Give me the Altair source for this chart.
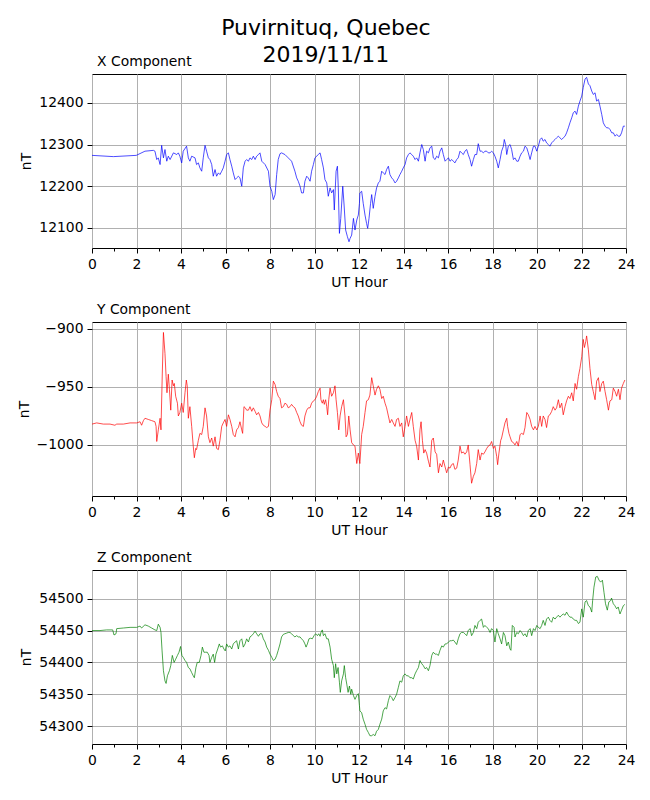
import altair as alt
import pandas as pd

TITLE_LINES = ["Puvirnituq, Quebec", "2019/11/11"]
PANEL_TITLES = ["X Component", "Y Component", "Z Component"]
COLORS = ["blue", "red", "green"]
X_TICKS = list(range(0, 25))
Y_TICKS = [[12100, 12200, 12300, 12400], [-1000, -950, -900], [54300, 54350, 54400, 54450, 54500]]
Y_DOMAINS = [[12052, 12469], [-1044, -894], [54272, 54545]]

# (UT hour, nT)
X_PTS = [(0.00,12274),(0.96,12271),(1.99,12274),(2.38,12284),(2.76,12286),(2.83,12284),(2.91,12264),(2.98,12268),(3.06,12252),(3.13,12298),(3.21,12268),(3.28,12288),(3.36,12260),(3.43,12272),(3.51,12264),(3.66,12280),(3.81,12276),(3.88,12280),(3.95,12272),(4.03,12256),(4.10,12284),(4.25,12296),(4.33,12268),(4.40,12260),(4.48,12272),(4.63,12268),(4.70,12252),(4.78,12256),(4.85,12244),(4.93,12236),(5.00,12268),(5.08,12298),(5.15,12284),(5.23,12268),(5.30,12264),(5.38,12252),(5.45,12224),(5.53,12240),(5.60,12224),(5.68,12232),(5.75,12228),(5.83,12236),(5.90,12244),(5.98,12260),(6.05,12276),(6.13,12280),(6.20,12264),(6.28,12248),(6.35,12232),(6.43,12216),(6.50,12220),(6.58,12224),(6.65,12220),(6.73,12200),(6.80,12244),(6.88,12260),(6.95,12264),(7.03,12260),(7.10,12268),(7.18,12264),(7.25,12272),(7.33,12264),(7.40,12272),(7.48,12276),(7.55,12280),(7.63,12260),(7.78,12252),(7.93,12236),(8.00,12200),(8.08,12188),(8.15,12168),(8.23,12180),(8.30,12228),(8.37,12264),(8.45,12278),(8.52,12280),(8.67,12276),(8.82,12268),(8.97,12260),(9.12,12236),(9.20,12220),(9.27,12212),(9.35,12200),(9.42,12184),(9.50,12184),(9.57,12212),(9.65,12224),(9.72,12220),(9.80,12212),(9.87,12236),(9.95,12252),(10.02,12268),(10.17,12276),(10.25,12280),(10.32,12264),(10.40,12244),(10.47,12216),(10.55,12208),(10.62,12176),(10.70,12196),(10.77,12184),(10.85,12192),(10.89,12143),(10.97,12236),(11.03,12248),(11.07,12196),(11.12,12087),(11.18,12123),(11.27,12200),(11.33,12155),(11.40,12095),(11.48,12079),(11.55,12067),(11.60,12075),(11.67,12083),(11.75,12123),(11.82,12095),(11.90,12119),(11.97,12131),(12.02,12159),
(12.04,12184),(12.12,12188),(12.19,12159),(12.27,12131),(12.34,12111),(12.39,12099),(12.45,12123),(12.52,12159),(12.57,12180),(12.64,12147),(12.72,12176),(12.79,12196),(12.87,12208),(12.94,12212),(13.02,12236),(13.09,12232),(13.17,12228),(13.24,12240),(13.32,12248),(13.39,12228),(13.47,12220),(13.54,12216),(13.62,12208),(13.69,12212),(13.77,12220),(13.84,12228),(13.92,12236),(13.99,12244),(14.07,12252),(14.14,12268),(14.22,12276),(14.29,12280),(14.37,12276),(14.44,12272),(14.52,12264),(14.59,12268),(14.67,12260),(14.74,12280),(14.82,12300),(14.89,12288),(14.97,12260),(15.04,12284),(15.12,12280),(15.19,12292),(15.27,12296),(15.34,12268),(15.42,12264),(15.49,12272),(15.57,12268),(15.64,12284),(15.72,12292),(15.79,12276),(15.87,12260),(15.94,12264),(16.02,12268),(16.09,12260),(16.17,12264),(16.24,12260),(16.31,12256),(16.39,12264),(16.46,12268),(16.54,12284),(16.61,12280),(16.69,12276),(16.76,12284),(16.84,12288),(16.91,12276),(16.99,12264),(17.06,12248),(17.14,12264),(17.21,12276),(17.29,12276),(17.36,12302),(17.44,12284),(17.51,12284),(17.59,12280),(17.66,12284),(17.74,12284),(17.81,12280),(17.89,12280),(17.96,12284),(18.04,12280),(18.11,12272),(18.19,12260),(18.26,12244),(18.34,12264),(18.41,12284),(18.49,12296),(18.53,12312),(18.59,12300),(18.64,12276),(18.71,12296),(18.79,12300),(18.86,12288),(18.94,12264),(19.01,12268),(19.09,12260),(19.16,12260),(19.24,12272),(19.31,12280),(19.39,12284),(19.46,12296),(19.54,12292),(19.61,12280),(19.69,12264),(19.76,12280),(19.84,12296),(19.91,12296),(19.99,12284),(20.06,12296),(20.14,12312),(20.21,12316),(20.28,12308),(20.36,12312),(20.43,12304),(20.51,12300),(20.58,12296),(20.66,12304),(20.73,12308),(20.81,12312),(20.88,12316),(20.96,12320),(21.03,12316),(21.11,12312),(21.18,12316),(21.26,12320),(21.33,12328),(21.41,12340),(21.48,12352),(21.56,12364),(21.63,12376),(21.71,12380),(21.78,12372),(21.86,12392),(21.93,12404),(22.01,12416),(22.08,12437),(22.16,12457),(22.23,12461),(22.31,12445),(22.38,12441),(22.46,12428),(22.53,12420),(22.61,12424),(22.68,12404),(22.76,12408),(22.83,12392),(22.91,12372),(22.98,12352),(23.06,12344),(23.13,12340),(23.21,12340),(23.28,12336),(23.36,12328),(23.43,12328),(23.51,12320),(23.58,12324),(23.66,12320),(23.73,12320),(23.80,12328),(23.88,12344),(23.95,12344)]

Y_PTS = [(0.00,-982),(0.21,-981),(0.51,-982),(0.81,-982),(1.03,-983),(1.11,-982),(1.26,-982),(1.41,-982),(1.71,-981),(2.01,-981),(2.16,-980),(2.23,-983),(2.31,-979),(2.38,-977),(2.53,-978),(2.68,-979),(2.83,-980),(2.88,-984),(2.91,-997),(2.98,-987),(3.06,-977),(3.10,-987),(3.16,-938),(3.21,-903),(3.28,-921),(3.33,-941),(3.37,-955),(3.43,-939),(3.48,-952),(3.54,-970),(3.60,-944),(3.66,-949),(3.70,-947),(3.76,-958),(3.84,-964),(3.88,-975),(3.95,-972),(4.03,-964),(4.10,-972),(4.18,-955),(4.24,-944),(4.28,-949),(4.33,-977),(4.40,-967),(4.48,-984),(4.55,-1001),(4.60,-1011),(4.66,-1003),(4.70,-1004),(4.78,-996),(4.85,-990),(4.93,-991),(5.00,-984),(5.08,-968),(5.15,-975),(5.23,-993),(5.30,-998),(5.38,-994),(5.45,-1001),(5.53,-993),(5.60,-1003),(5.68,-1004),(5.75,-996),(5.83,-984),(5.90,-981),(5.98,-978),(6.05,-984),(6.13,-974),(6.20,-978),(6.28,-984),(6.35,-991),(6.43,-993),(6.50,-987),(6.58,-985),(6.65,-980),(6.73,-987),(6.77,-990),(6.83,-967),(6.89,-968),(6.95,-970),(7.03,-970),(7.10,-967),(7.18,-971),(7.25,-968),(7.33,-971),(7.40,-974),(7.48,-972),(7.55,-975),(7.63,-981),(7.70,-983),(7.78,-984),(7.85,-985),(7.93,-984),(8.00,-970),(8.08,-961),(8.15,-945),(8.23,-948),(8.30,-954),(8.37,-958),(8.45,-960),(8.52,-968),(8.60,-967),(8.67,-964),(8.75,-965),(8.82,-968),(8.90,-967),(8.97,-965),(9.05,-967),(9.12,-968),(9.20,-972),(9.27,-975),(9.35,-980),(9.42,-983),(9.50,-984),(9.57,-975),(9.65,-970),(9.72,-968),(9.80,-968),(9.87,-964),(9.95,-962),(10.02,-961),(10.10,-958),(10.17,-954),(10.25,-951),(10.29,-961),(10.35,-964),(10.40,-961),(10.44,-965),(10.50,-961),(10.55,-967),(10.59,-974),(10.64,-961),(10.70,-951),(10.77,-958),(10.85,-955),(10.92,-949),(10.97,-961),(11.03,-972),(11.09,-987),(11.15,-975),(11.22,-967),(11.30,-961),(11.37,-975),(11.42,-993),(11.48,-991),(11.54,-975),(11.60,-987),(11.67,-998),(11.75,-1000),(11.82,-1001),(11.90,-1016),(11.97,-1007),(12.02,-1014),
(12.04,-1016),(12.12,-991),(12.19,-984),(12.27,-972),(12.34,-962),(12.42,-961),(12.49,-957),(12.57,-942),(12.64,-949),(12.72,-957),(12.79,-952),(12.87,-949),(12.94,-952),(13.02,-960),(13.09,-958),(13.17,-964),(13.24,-968),(13.32,-975),(13.39,-981),(13.47,-978),(13.54,-981),(13.62,-984),(13.69,-978),(13.77,-977),(13.84,-984),(13.92,-981),(13.99,-993),(14.07,-984),(14.14,-975),(14.22,-984),(14.29,-978),(14.37,-972),(14.44,-984),(14.52,-996),(14.59,-1001),(14.67,-1013),(14.74,-987),(14.79,-980),(14.85,-996),(14.91,-1007),(14.97,-1004),(15.04,-1007),(15.12,-1014),(15.19,-1019),(15.27,-996),(15.34,-994),(15.42,-1006),(15.49,-1008),(15.57,-1024),(15.64,-1016),(15.72,-1019),(15.79,-1013),(15.87,-1019),(15.94,-1024),(16.02,-1019),(16.09,-1020),(16.16,-1017),(16.24,-1016),(16.31,-1021),(16.39,-1020),(16.46,-1013),(16.54,-1001),(16.61,-1007),(16.69,-1006),(16.76,-1008),(16.84,-1006),(16.91,-1000),(16.99,-1017),(17.06,-1033),(17.14,-1027),(17.21,-1024),(17.29,-1016),(17.36,-1004),(17.44,-1013),(17.51,-1007),(17.59,-1008),(17.66,-1006),(17.74,-1003),(17.81,-1001),(17.89,-1000),(17.96,-997),(18.04,-1003),(18.11,-1001),(18.19,-1010),(18.23,-1017),(18.29,-1007),(18.37,-996),(18.41,-994),(18.49,-987),(18.56,-981),(18.64,-977),(18.68,-984),(18.74,-990),(18.79,-993),(18.86,-997),(18.94,-998),(19.01,-1000),(19.09,-997),(19.16,-1001),(19.24,-991),(19.31,-990),(19.39,-991),(19.46,-985),(19.54,-972),(19.61,-974),(19.69,-978),(19.76,-984),(19.84,-987),(19.91,-984),(19.99,-987),(20.06,-984),(20.14,-975),(20.21,-984),(20.28,-975),(20.36,-978),(20.43,-985),(20.51,-975),(20.58,-974),(20.66,-971),(20.73,-967),(20.81,-970),(20.88,-968),(20.96,-961),(21.03,-968),(21.11,-964),(21.18,-974),(21.26,-967),(21.33,-962),(21.41,-958),(21.48,-960),(21.56,-955),(21.63,-962),(21.71,-947),(21.78,-952),(21.86,-941),(21.93,-934),(22.01,-924),(22.05,-915),(22.08,-909),(22.13,-916),(22.19,-911),(22.23,-906),(22.31,-918),(22.38,-934),(22.46,-948),(22.53,-954),(22.61,-961),(22.68,-945),(22.76,-942),(22.83,-954),(22.91,-947),(22.98,-945),(23.06,-954),(23.13,-961),(23.21,-970),(23.28,-962),(23.36,-961),(23.43,-951),(23.51,-954),(23.58,-958),(23.66,-952),(23.73,-961),(23.80,-951),(23.88,-947),(23.95,-944)]

Z_PTS = [(0.00,54450),(0.36,54450),(0.66,54451),(0.93,54451),(0.99,54443),(1.08,54445),(1.11,54453),(1.41,54454),(1.71,54455),(2.01,54455),(2.16,54457),(2.23,54454),(2.38,54459),(2.53,54457),(2.68,54454),(2.83,54451),(2.91,54450),(2.98,54460),(3.06,54455),(3.10,54447),(3.15,54418),(3.21,54387),(3.28,54371),(3.33,54367),(3.39,54379),(3.48,54387),(3.54,54395),(3.61,54411),(3.69,54400),(3.76,54405),(3.84,54411),(3.91,54416),(3.98,54425),(4.04,54411),(4.10,54408),(4.18,54403),(4.25,54400),(4.33,54392),(4.40,54390),(4.48,54384),(4.55,54379),(4.60,54376),(4.67,54392),(4.73,54400),(4.82,54400),(4.90,54411),(4.96,54424),(5.03,54416),(5.11,54416),(5.18,54416),(5.26,54411),(5.30,54400),(5.38,54408),(5.45,54413),(5.51,54400),(5.57,54413),(5.65,54421),(5.72,54429),(5.78,54424),(5.86,54426),(5.93,54421),(5.99,54418),(6.05,54429),(6.13,54424),(6.20,54426),(6.28,54421),(6.35,54429),(6.43,54432),(6.50,54434),(6.58,54421),(6.65,54434),(6.73,54437),(6.80,54424),(6.88,54429),(6.95,54437),(7.03,54432),(7.10,54440),(7.18,54442),(7.25,54445),(7.33,54449),(7.40,54445),(7.48,54441),(7.55,54445),(7.63,54445),(7.70,54437),(7.78,54432),(7.85,54424),(7.93,54419),(8.00,54413),(8.08,54408),(8.15,54403),(8.23,54405),(8.30,54411),(8.37,54419),(8.45,54429),(8.52,54440),(8.60,54444),(8.67,54445),(8.75,54446),(8.82,54447),(8.90,54447),(8.97,54445),(9.05,54442),(9.12,54440),(9.20,54442),(9.27,54440),(9.35,54440),(9.42,54437),(9.50,54434),(9.57,54429),(9.62,54424),(9.68,54429),(9.75,54437),(9.83,54438),(9.90,54437),(9.98,54442),(10.05,54445),(10.13,54442),(10.19,54445),(10.25,54441),(10.29,54447),(10.35,54451),(10.40,54442),(10.47,54445),(10.55,54437),(10.62,54437),(10.70,54424),(10.77,54405),(10.85,54395),(10.89,54376),(10.95,54398),(11.00,54382),(11.06,54392),(11.12,54369),(11.16,54353),(11.22,54371),(11.30,54382),(11.34,54395),(11.40,54376),(11.45,54366),(11.51,54353),(11.57,54363),(11.63,54350),(11.67,54358),(11.75,54348),(11.82,54342),(11.90,54348),(11.97,54351),(12.02,54332),
(12.04,54324),(12.12,54321),(12.19,54311),(12.27,54303),(12.34,54295),(12.42,54290),(12.49,54285),(12.57,54285),(12.64,54287),(12.72,54285),(12.79,54292),(12.87,54295),(12.94,54303),(13.02,54311),(13.09,54324),(13.17,54329),(13.24,54327),(13.32,54340),(13.39,54348),(13.47,54345),(13.54,54340),(13.62,54345),(13.69,54350),(13.77,54361),(13.84,54371),(13.92,54369),(13.99,54379),(14.07,54382),(14.14,54379),(14.22,54379),(14.29,54376),(14.37,54376),(14.44,54374),(14.52,54382),(14.59,54387),(14.67,54392),(14.74,54403),(14.82,54398),(14.89,54395),(14.97,54390),(15.04,54392),(15.12,54387),(15.19,54395),(15.27,54411),(15.34,54416),(15.42,54413),(15.49,54413),(15.57,54411),(15.64,54419),(15.72,54426),(15.79,54424),(15.87,54429),(15.94,54429),(16.02,54432),(16.09,54434),(16.16,54434),(16.24,54435),(16.31,54432),(16.39,54428),(16.46,54437),(16.54,54445),(16.61,54447),(16.69,54447),(16.76,54445),(16.84,54442),(16.91,54450),(16.99,54453),(17.06,54442),(17.14,54447),(17.21,54458),(17.29,54453),(17.36,54463),(17.44,54466),(17.51,54468),(17.59,54455),(17.66,54458),(17.74,54455),(17.81,54453),(17.89,54447),(17.96,54453),(18.04,54450),(18.11,54432),(18.19,54453),(18.26,54445),(18.34,54437),(18.41,54429),(18.49,54447),(18.56,54442),(18.64,54426),(18.71,54432),(18.79,54421),(18.83,54419),(18.89,54458),(18.97,54455),(19.01,54440),(19.09,54447),(19.16,54445),(19.24,54450),(19.31,54447),(19.39,54442),(19.46,54445),(19.54,54440),(19.61,54450),(19.69,54453),(19.76,54442),(19.84,54453),(19.91,54450),(19.99,54458),(20.06,54455),(20.14,54453),(20.21,54458),(20.28,54466),(20.36,54458),(20.43,54468),(20.51,54471),(20.58,54466),(20.66,54463),(20.73,54471),(20.81,54468),(20.88,54471),(20.96,54474),(21.03,54471),(21.11,54474),(21.18,54476),(21.26,54474),(21.33,54479),(21.41,54474),(21.48,54471),(21.56,54471),(21.63,54468),(21.71,54466),(21.78,54466),(21.86,54461),(21.93,54463),(22.01,54484),(22.08,54471),(22.16,54495),(22.23,54497),(22.31,54489),(22.38,54487),(22.46,54479),(22.50,54497),(22.56,54518),(22.64,54534),(22.71,54535),(22.79,54529),(22.86,54526),(22.94,54529),(23.01,54510),(23.08,54492),(23.16,54482),(23.23,54495),(23.31,54497),(23.35,54501),(23.43,54492),(23.50,54489),(23.58,54484),(23.65,54487),(23.73,54476),(23.80,54482),(23.88,54489),(23.95,54491)]

FONT = "DejaVu Sans"
EVEN = "datum.value % 2 === 0"


def panel(points, color, title, domain, yticks):
    df = pd.DataFrame(points, columns=["hour", "nT"])
    return (
        alt.Chart(df)
        .mark_line(color=color, strokeWidth=0.7, clip=True)
        .encode(
            x=alt.X(
                "hour:Q",
                scale=alt.Scale(domain=[0, 24], nice=False, zero=False),
                axis=alt.Axis(
                    values=X_TICKS,
                    title="UT Hour",
                    labelFlush=False,
                    labelExpr=f"{EVEN} ? datum.label : ''",
                    tickSize={"condition": {"test": EVEN, "value": 5}, "value": 3},
                    gridOpacity={"condition": {"test": EVEN, "value": 1}, "value": 0},
                ),
            ),
            y=alt.Y(
                "nT:Q",
                scale=alt.Scale(domain=domain, nice=False, zero=False),
                axis=alt.Axis(values=yticks, format="d", title="nT"),
            ),
        )
        .properties(
            width=534,
            height=174,
            title=alt.TitleParams(
                title, anchor="start", frame="group", font=FONT, fontSize=13.9,
                fontWeight="normal", offset=5, dx=5, color="black",
            ),
        )
    )


panels = [
    panel(pts, c, t, d, yt)
    for pts, c, t, d, yt in zip([X_PTS, Y_PTS, Z_PTS], COLORS, PANEL_TITLES, Y_DOMAINS, Y_TICKS)
]

chart = (
    alt.vconcat(*panels, spacing=11)
    .properties(
        title=alt.TitleParams(
            TITLE_LINES, anchor="middle", font=FONT, fontSize=22,
            fontWeight="normal", lineHeight=27, offset=-12, color="black",
        ),
        padding={"left": 8, "top": 8, "right": 5, "bottom": 5},
    )
    .configure_view(stroke="black", strokeWidth=1)
    .configure_axis(
        domain=False,
        labelFont=FONT, labelFontSize=13.9, labelColor="black", labelPadding=4,
        tickColor="black", tickWidth=1, tickSize=5,
        gridColor="#b0b0b0", gridWidth=1,
        titleFont=FONT, titleFontSize=13.9, titleFontWeight="normal",
        titleColor="black", titlePadding=5,
    )
)

chart.save("out.html", embed_options={"renderer": "svg", "actions": False})
